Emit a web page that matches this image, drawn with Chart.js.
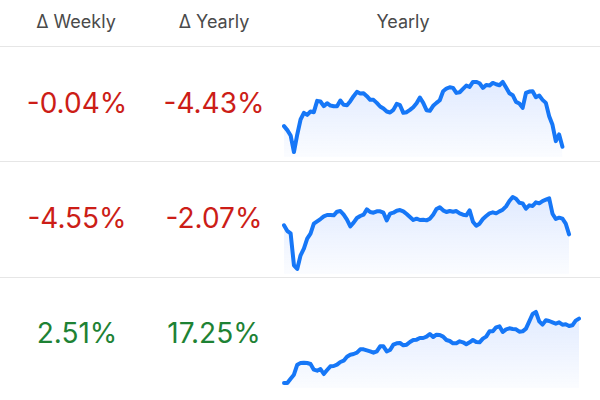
<!DOCTYPE html>
<html>
<head>
<meta charset="utf-8">
<script src="https://cdn.jsdelivr.net/npm/chart.js@4"></script>
<style>
  html, body { margin: 0; padding: 0; background: #fff; }
  body { width: 600px; height: 400px; overflow: hidden; position: relative; font-family: Inter, "Noto Sans", sans-serif; }
  .head { position: absolute; top: 11px; font-size: 18px; color: #4a4a4a; transform: translateX(-50%); white-space: nowrap; }
  .num { position: absolute; font-size: 28px; transform: translate(-50%, -50%); white-space: nowrap; }
  .neg { color: #cc1d17; }
  .pos { color: #1e8234; }
  .rule { position: absolute; left: 0; width: 600px; height: 1px; background: #e6e6e6; }
  .spark { position: absolute; left: 281px; width: 301px; }
</style>
</head>
<body>
<div class="head" style="left:76px">Δ Weekly</div>
<div class="head" style="left:214px">Δ Yearly</div>
<div class="head" style="left:403px">Yearly</div>
<div class="rule" style="top:46px"></div>
<div class="rule" style="top:161px"></div>
<div class="rule" style="top:277px"></div>

<div id="cells"></div>

<div class="spark" style="top:74px;height:86px"><canvas id="spark0"></canvas></div>
<div class="spark" style="top:189px;height:88px"><canvas id="spark1"></canvas></div>
<div class="spark" style="top:304px;height:87px"><canvas id="spark2"></canvas></div>

<script>
const weeklyChange = [-0.04, -4.55, 2.51];
const yearlyChange = [-4.43, -2.07, 17.25];

// one year of closes per row
const yearlyA = [
  100, 88, 72, 22, 75, 120, 140, 134, 144, 142,
  176, 174, 160, 169, 162, 160, 160, 177, 164, 163,
  175, 190, 203, 198, 199, 190, 179, 179, 170, 159,
  153, 144, 141, 149, 167, 163, 140, 142, 149, 157,
  169, 186, 170, 148, 146, 161, 170, 178, 205, 213,
  217, 215, 200, 202, 212, 222, 218, 233, 233, 229,
  215, 224, 222, 230, 226, 223, 233, 216, 199, 193,
  173, 168, 155, 200, 204, 205, 187, 192, 179, 170,
  130, 104, 55, 75, 38
];
const yearlyB = [
  165, 148, 141, 45, 34, 75, 95, 125, 140, 170,
  177, 184, 192, 196, 196, 195, 206, 208, 197, 182,
  162, 173, 187, 193, 197, 213, 205, 203, 207, 207,
  203, 180, 200, 203, 209, 211, 207, 199, 190, 181,
  185, 181, 182, 180, 185, 197, 214, 219, 210, 205,
  208, 206, 208, 201, 197, 195, 210, 176, 164, 170,
  184, 193, 201, 204, 201, 207, 212, 222, 238, 250,
  245, 233, 231, 215, 225, 223, 234, 231, 238, 242,
  246, 200, 184, 188, 185, 170, 138
];
const yearlyC = [
  35, 35, 48, 60, 90, 95, 96, 95, 92, 75,
  72, 77, 62, 74, 85, 86, 90, 98, 102, 114,
  120, 122, 126, 136, 136, 133, 130, 126, 130, 145,
  145, 130, 134, 150, 154, 155, 148, 150, 158, 164,
  165, 170, 170, 174, 182, 173, 180, 179, 174, 164,
  161, 154, 154, 160, 157, 151, 157, 164, 158, 157,
  168, 174, 190, 190, 202, 205, 188, 196, 199, 197,
  196, 189, 190, 198, 220, 242, 248, 220, 210, 223,
  221, 217, 213, 217, 210, 211, 206, 208, 222, 228
];

const rows = [yearlyA, yearlyB, yearlyC];
const days = yearlyC.map((_, i) => i + 1);
const rowCenters = [103, 218, 333];

const fmt = v => v.toFixed(2) + '%';
const cells = document.getElementById('cells');
rows.forEach((_, r) => {
  [[weeklyChange[r], 77], [yearlyChange[r], 214]].forEach(([v, x]) => {
    const d = document.createElement('div');
    d.className = 'num ' + (v < 0 ? 'neg' : 'pos');
    d.style.left = x + 'px';
    d.style.top = rowCenters[r] + 'px';
    d.textContent = fmt(v);
    cells.appendChild(d);
  });
});

function areaFill(context) {
  const area = context.chart.chartArea;
  if (!area) return 'rgba(30,110,255,0.08)';
  const g = context.chart.ctx.createLinearGradient(0, area.top, 0, area.bottom);
  g.addColorStop(0, 'rgba(40,110,255,0.15)');
  g.addColorStop(1, 'rgba(40,110,255,0.02)');
  return g;
}

rows.forEach((vals, r) => {
  const lo = Math.min(...vals);
  const hi = Math.max(...vals);
  const pad = (hi - lo) * 0.07;
  new Chart(document.getElementById('spark' + r), {
    type: 'line',
    data: {
      labels: days,
      datasets: [{
        data: vals,
        borderColor: '#1677f7',
        borderWidth: 4,
        borderJoinStyle: 'round',
        borderCapStyle: 'round',
        pointRadius: 0,
        tension: 0,
        fill: 'start',
        backgroundColor: areaFill,
      }],
    },
    options: {
      responsive: true,
      maintainAspectRatio: false,
      animation: false,
      layout: { padding: 3 },
      plugins: { legend: { display: false }, tooltip: { enabled: false } },
      scales: {
        x: { display: false },
        y: { display: false, min: lo - pad, max: hi + pad },
      },
    },
  });
});
</script>
</body>
</html>
